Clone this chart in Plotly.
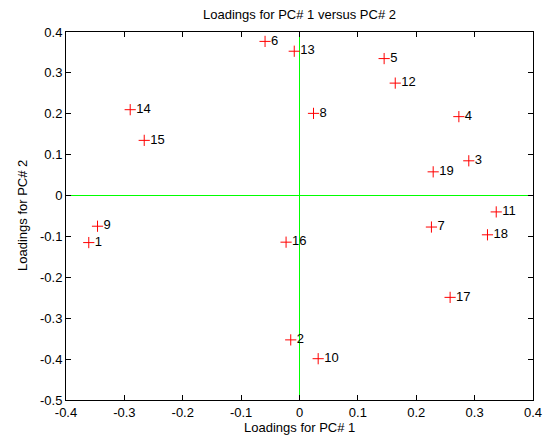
import plotly.graph_objects as go

labels = ["1","2","3","4","5","6","7","8","9","10","11","12","13","14","15","16","17","18","19"]
pc1 = [-0.361, -0.015, 0.290, 0.273, 0.145, -0.059, 0.226, 0.024, -0.346, 0.032,
       0.337, 0.164, -0.009, -0.290, -0.266, -0.023, 0.258, 0.322, 0.229]
pc2 = [-0.115, -0.353, 0.085, 0.193, 0.335, 0.377, -0.077, 0.201, -0.075, -0.399,
       -0.040, 0.275, 0.353, 0.210, 0.135, -0.114, -0.249, -0.096, 0.058]

xticks = [-0.4, -0.3, -0.2, -0.1, 0, 0.1, 0.2, 0.3, 0.4]
xticklabels = ["-0.4", "-0.3", "-0.2", "-0.1", "0", "0.1", "0.2", "0.3", "0.4"]
yticks = [-0.5, -0.4, -0.3, -0.2, -0.1, 0, 0.1, 0.2, 0.3, 0.4]
yticklabels = ["-0.5", "-0.4", "-0.3", "-0.2", "-0.1", "0", "0.1", "0.2", "0.3", "0.4"]

font = "Liberation Sans, Arial, sans-serif"
tfont = dict(family=font, size=13, color="black")

fig = go.Figure()
fig.add_trace(go.Scatter(
    x=pc1, y=pc2, mode="markers+text", text=labels,
    textposition="middle right",
    textfont=tfont,
    marker=dict(symbol="cross-thin", size=8, line=dict(color="red", width=1), color="red"),
    showlegend=False))

axis_common = dict(
    showgrid=False, zeroline=True, zerolinecolor="#00ff00", zerolinewidth=1,
    showline=True, linecolor="black", linewidth=1,
    mirror="ticks", ticks="inside", ticklen=5, tickcolor="black", tickwidth=1,
    tickfont=tfont, automargin=False,
)
fig.update_xaxes(range=[-0.4, 0.4], tickvals=xticks, ticktext=xticklabels, **axis_common)
fig.update_yaxes(range=[-0.5, 0.4], tickvals=yticks, ticktext=yticklabels, **axis_common)

fig.add_annotation(text="Loadings for PC# 1", xref="paper", yref="paper", x=0.5, y=0,
                   xanchor="center", yanchor="middle", yshift=-27, showarrow=False, font=tfont)
fig.add_annotation(text="Loadings for PC# 2", xref="paper", yref="paper", x=0, y=0.5,
                   xanchor="center", yanchor="middle", xshift=-44, textangle=-90,
                   showarrow=False, font=tfont)

fig.update_layout(
    width=547, height=437,
    margin=dict(l=66, r=14, t=32, b=37, autoexpand=False),
    paper_bgcolor="white", plot_bgcolor="white",
    title=dict(text="Loadings for PC# 1 versus PC# 2", xref="paper", x=0.5, xanchor="center",
               yref="container", y=1 - 14/437, yanchor="middle", font=tfont),
)
fig.write_html("out.html", config={"staticPlot": True, "displayModeBar": False},
               post_script="document.body.style.margin='0';")
